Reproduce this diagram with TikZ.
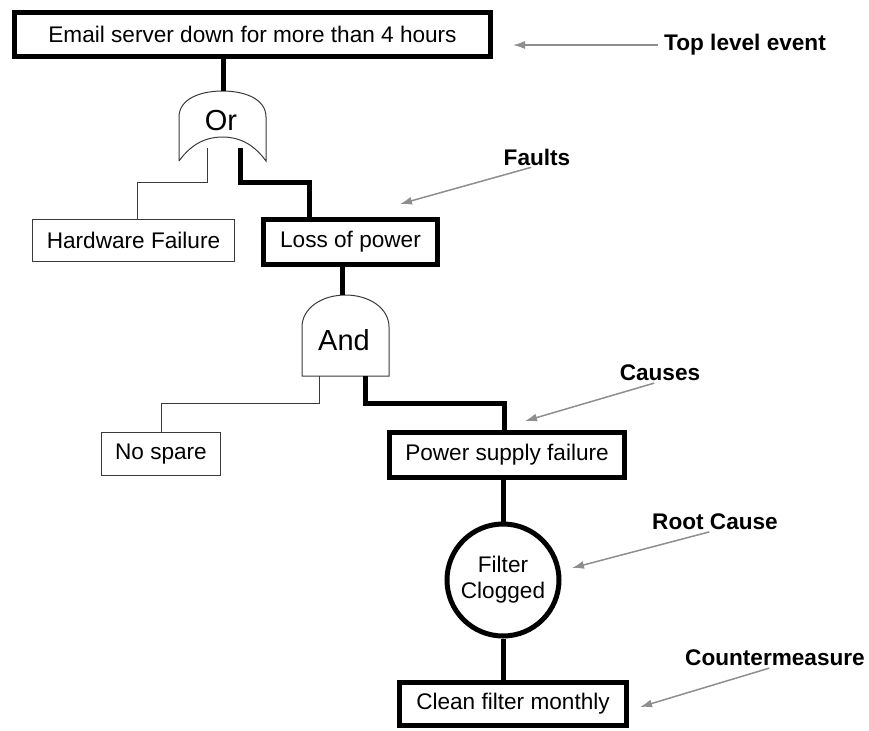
\documentclass[tikz,border=0pt]{standalone}
\usepackage{fontspec}
\setmainfont{Liberation Sans}
\usetikzlibrary{arrows.meta,calc}
\definecolor{ink}{HTML}{000000}
\definecolor{gateink}{HTML}{3A3A3A}
\definecolor{pointerc}{HTML}{8E8E8E}
\tikzset{
  evtbox/.style={draw=ink, fill=white, line width=2.5pt, inner sep=0pt,
                 align=center, font=\fontsize{11.3}{13}\selectfont},
  basebox/.style={draw=gateink, fill=white, line width=0.5pt, inner sep=0pt,
                  align=center, font=\fontsize{11.3}{13}\selectfont},
  rootcirc/.style={circle, draw=ink, fill=white, line width=2.5pt, minimum size=56pt,
                   inner sep=0pt, align=center, font=\fontsize{11.3}{13}\selectfont},
  gatetxt/.style={inner sep=0pt, font=\fontsize{14.5}{16}\selectfont},
  gateline/.style={draw=gateink, line width=0.5pt},
  thickwire/.style={draw=ink, line width=2.5pt},
  thinwire/.style={draw=gateink, line width=0.5pt},
  note/.style={inner sep=0pt, font=\fontsize{11.3}{13}\selectfont\bfseries},
  pointer/.style={-{Latex[length=6pt,width=4pt]}, line width=0.75pt, draw=pointerc}
}
\begin{document}
\begin{tikzpicture}[x=0.5pt,y=-0.5pt]
  \useasboundingbox (0,0) rectangle (869,730);

  % top level event
  \node[evtbox, minimum width=238pt, minimum height=22pt] (top) at (252.5,34.5)
    {Email server down for more than 4 hours};

  % or gate
  \node[gatetxt] (orgate) at (221,121) {Or};
  \begin{scope}[shift={(orgate.center)}]
    \draw[gateline] (-42,40) -- (-42,-4) .. controls (-42,-22) and (-21,-30) .. (1.5,-30)
      .. controls (24,-30) and (45,-22) .. (45,-4) -- (45,40)
      .. controls (32,22) and (17,16) .. (1.5,16)
      .. controls (-14,16) and (-29,22) .. (-42,40);
    \coordinate (ortop) at (2,-30);
    \coordinate (orL) at (-14,27);
    \coordinate (orR) at (19,27);
  \end{scope}

  % faults
  \node[basebox, minimum width=101pt, minimum height=21pt] (hw) at (133.5,240.5) {Hardware Failure};
  \node[evtbox, minimum width=87pt, minimum height=22.5pt] (loss) at (350.5,242) {Loss of power};

  % and gate
  \node[gatetxt] (andgate) at (344,340) {And};
  \begin{scope}[shift={(andgate.center)}]
    \draw[gateline] (-42,36) -- (-42,-13) .. controls (-42,-32) and (-22,-45) .. (1.5,-45)
      .. controls (25,-45) and (45,-32) .. (45,-13) -- (45,36) -- cycle;
    \coordinate (andtop) at (-2,-45);
    \coordinate (andL) at (-25,36);
    \coordinate (andR) at (21,36);
  \end{scope}

  % causes
  \node[basebox, minimum width=59.5pt, minimum height=21.5pt] (nospare) at (161,454) {No spare};
  \node[evtbox, minimum width=117.5pt, minimum height=22.5pt] (power) at (507,455) {Power supply failure};

  % root cause and countermeasure
  \node[rootcirc] (filter) at (503,580) {Filter\\Clogged};
  \node[evtbox, minimum width=113.5pt, minimum height=21.5pt] (clean) at (513,704) {Clean filter monthly};

  % wires
  \draw[thickwire] (top.south -| ortop) -- (ortop);
  \draw[thinwire] (orL) -- ++(0,34) -| ([xshift=2pt]hw.north);
  \draw[thickwire] (orR) -- ++(0,34) -| ([xshift=-20.75pt]loss.north);
  \draw[thickwire] (loss.south -| andtop) -- (andtop);
  \draw[thinwire] (andL) -- ++(0,27) -| (nospare.north);
  \draw[thickwire] (andR) -- ++(0,27) -| ([xshift=-1.5pt]power.north);
  \draw[thickwire] (power.south -| filter.north) -- (filter.north);
  \draw[thickwire] (filter.south) -- (filter.south |- clean.north);

  % annotations
  \foreach \nm/\lx/\ly/\tx/\ty/\anc/\txt in {toplvl/745/45/513/45/west/Top level event,
      faults/537/157/400/204/south/Faults,
      causes/660/373/525/421/south/Causes,
      root/715/522/572/568/south/Root Cause,
      counter/775/658/640/707/south/Countermeasure} {
    \coordinate (\nm tip) at (\tx,\ty);
    \node[note] (\nm) at (\lx,\ly) {\txt};
    \draw[pointer, shorten <=3pt] (\nm.\anc) -- (\nm tip);
  }
\end{tikzpicture}
\end{document}
